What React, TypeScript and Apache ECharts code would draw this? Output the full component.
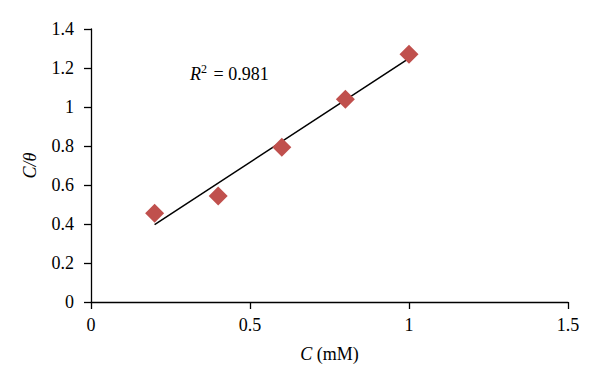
import React, { useEffect, useRef } from "react";
import * as echarts from "echarts";

const concentrations = [0.2, 0.4, 0.6, 0.8, 1.0];
const cOverTheta = [0.455, 0.544, 0.794, 1.04, 1.271];
const trendX = [0.2, 1.0];
const trendY = [0.397, 1.249];
const rSquaredText = "0.981";

const FONT = "'Liberation Serif', 'DejaVu Serif', serif";
const FS = 18;

export default function App() {
  const ref = useRef<HTMLDivElement>(null);
  useEffect(() => {
    document.body.style.margin = "0";
    if (!ref.current) return;
    const chart = echarts.init(ref.current, null, { renderer: "svg" });
    chart.setOption({
      animation: false,
      backgroundColor: "#ffffff",
      grid: { left: 91, right: 32, top: 29, bottom: 84 },
      xAxis: {
        type: "value",
        min: 0,
        max: 1.5,
        interval: 0.5,
        splitLine: { show: false },
        axisLine: { lineStyle: { color: "#000", width: 1.3 } },
        axisTick: { show: true, length: 7, lineStyle: { color: "#000", width: 1.3 } },
        axisLabel: { color: "#000", fontFamily: FONT, fontSize: FS, margin: 14 },
        name: "{i|C} (mM)",
        nameLocation: "middle",
        nameGap: 43,
        nameTextStyle: {
          color: "#000",
          fontFamily: FONT,
          fontSize: FS,
          rich: {
            i: { fontStyle: "italic", fontFamily: FONT, fontSize: FS, color: "#000" },
          },
        },
      },
      yAxis: {
        type: "value",
        min: 0,
        max: 1.4,
        interval: 0.2,
        splitLine: { show: false },
        axisLine: { show: true, lineStyle: { color: "#000", width: 1.3 } },
        axisTick: { show: true, length: 7, lineStyle: { color: "#000", width: 1.3 } },
        axisLabel: { color: "#000", fontFamily: FONT, fontSize: FS, margin: 17 },
        name: "C/θ",
        nameLocation: "middle",
        nameGap: 52,
        nameTextStyle: {
          color: "#000",
          fontFamily: FONT,
          fontSize: FS,
          fontStyle: "italic",
        },
      },
      graphic: [
        {
          type: "text",
          left: 190,
          top: 63,
          style: {
            text: "{i|R}{s|2} = " + rSquaredText,
            fill: "#000",
            fontFamily: FONT,
            fontSize: FS,
            rich: {
              i: { fontStyle: "italic", fontFamily: FONT, fontSize: FS, fill: "#000" },
              s: { fontFamily: FONT, fontSize: 12, fill: "#000", verticalAlign: "top", padding: [0, 2, 9, 0] },
            },
          },
        },
      ],
      series: [
        {
          type: "line",
          data: trendX.map((x, i) => [x, trendY[i]]),
          showSymbol: false,
          symbol: "none",
          lineStyle: { color: "#000", width: 1.5 },
          silent: true,
          z: 2,
        },
        {
          type: "scatter",
          data: concentrations.map((x, i) => [x, cOverTheta[i]]),
          symbol: "diamond",
          symbolSize: 19,
          itemStyle: { color: "#C0504D", opacity: 1 },
          z: 3,
        },
      ],
    });
    return () => chart.dispose();
  }, []);
  return <div ref={ref} style={{ width: 600, height: 386 }} />;
}
